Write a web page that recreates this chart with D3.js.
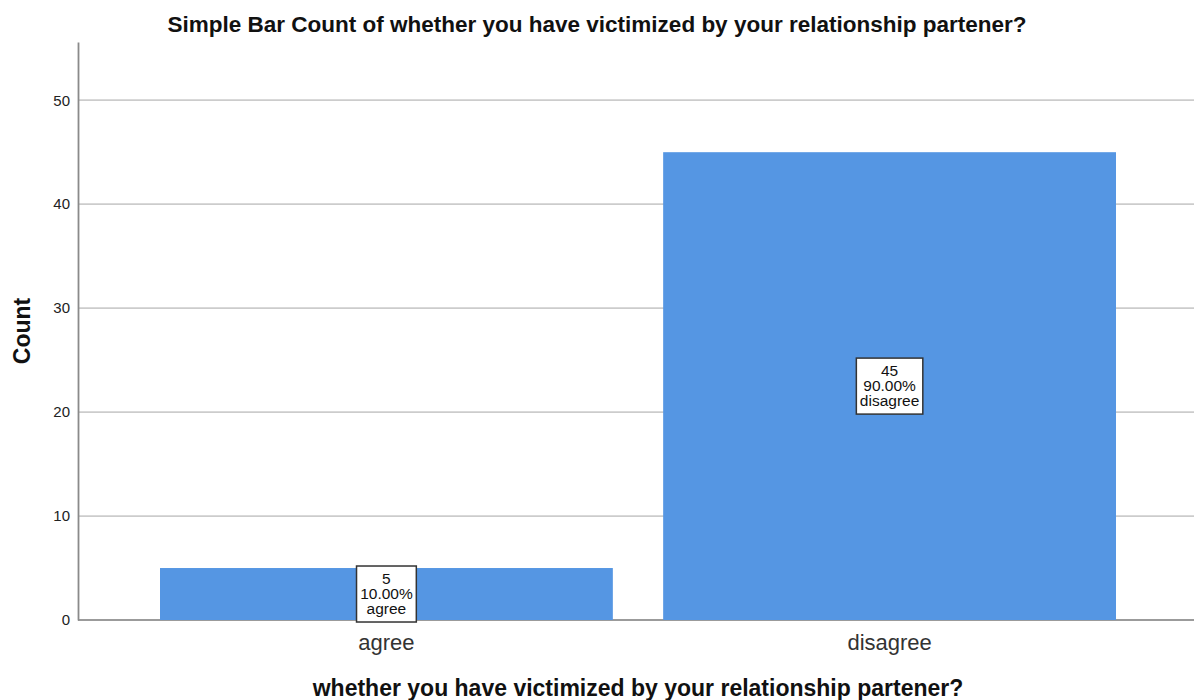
<!DOCTYPE html>
<html>
<head>
<meta charset="utf-8">
<script src="https://cdn.jsdelivr.net/npm/d3@7"></script>
<style>
  body { margin: 0; background: #fff; }
  text { font-family: "Liberation Sans", Arial, sans-serif; }
</style>
</head>
<body>
<script>
// chart data
const categories = ["agree", "disagree"];
const counts = [5, 45];
const percents = ["10.00%", "90.00%"];
const yTicks = [0, 10, 20, 30, 40, 50];

const chartTitle = "Simple Bar Count of whether you have victimized by your relationship partener?";
const xTitle = "whether you have victimized by your relationship partener?";
const yTitle = "Count";

const svgWidth = 1194, svgHeight = 700;
const margin = { top: 42, right: 0, bottom: 80, left: 78 };
const width = svgWidth - margin.left - margin.right;
const height = svgHeight - margin.top - margin.bottom;

const svg = d3.select("body").append("svg")
  .attr("width", svgWidth)
  .attr("height", svgHeight);

const x = d3.scaleBand()
  .domain(categories)
  .range([2, width + 2])
  .paddingInner(0.1)
  .paddingOuter(0.159);

const y = d3.scaleLinear().domain([0, 55.6]).range([height, 0]);

const g = svg.append("g")
  .attr("transform", "translate(" + margin.left + "," + margin.top + ")");

// gridlines
g.append("g")
  .selectAll("line")
  .data(yTicks.filter(d => d > 0))
  .enter().append("line")
  .attr("x1", 0).attr("x2", width)
  .attr("y1", d => y(d)).attr("y2", d => y(d))
  .attr("stroke", "#cccccc")
  .attr("stroke-width", 1.8);

// baseline
g.append("line")
  .attr("x1", 0).attr("x2", width)
  .attr("y1", y(0)).attr("y2", y(0))
  .attr("stroke", "#7a7a7a")
  .attr("stroke-width", 1.5);

// y axis
const yAxis = d3.axisLeft(y).tickValues(yTicks).tickSize(0).tickPadding(8);
const yg = g.append("g").call(yAxis);
yg.select(".domain").attr("stroke", "#8a8a8a").attr("stroke-width", 1.8);
yg.selectAll("text")
  .style("font-family", "'Liberation Sans', Arial, sans-serif")
  .style("font-size", "15px")
  .attr("fill", "#222");

// bars
g.selectAll(".bar")
  .data(categories)
  .enter().append("rect")
  .attr("class", "bar")
  .attr("x", d => x(d))
  .attr("width", x.bandwidth())
  .attr("y", (d, i) => y(counts[i]))
  .attr("height", (d, i) => y(0) - y(counts[i]))
  .attr("fill", "#5596e3");

// x axis labels
const xAxis = d3.axisBottom(x).tickSize(0).tickPadding(14);
const xg = g.append("g").attr("transform", "translate(0," + height + ")").call(xAxis);
xg.select(".domain").remove();
xg.selectAll("text")
  .style("font-family", "'Liberation Sans', Arial, sans-serif")
  .style("font-size", "22px")
  .attr("fill", "#333");

// value labels
const labels = g.selectAll(".lbl")
  .data(categories)
  .enter().append("g")
  .attr("class", "lbl")
  .attr("transform", (d, i) => "translate(" + (x(d) + x.bandwidth() / 2) + "," + y(counts[i] / 2) + ")");

labels.each(function (d, i) {
  const sel = d3.select(this);
  const lines = [String(counts[i]), percents[i], d];
  const rect = sel.append("rect")
    .attr("fill", "#fff")
    .attr("stroke", "#333")
    .attr("stroke-width", 1.5);
  const t = sel.append("text")
    .attr("text-anchor", "middle")
    .style("font-size", "15.5px")
    .attr("fill", "#111");
  lines.forEach((s, k) => {
    t.append("tspan").attr("x", 0).attr("y", -15 + k * 15 + 5).text(s);
  });
  const bb = t.node().getBBox();
  const w = bb.width + 7;
  rect.attr("x", -w / 2).attr("y", -28).attr("width", w).attr("height", 56);
});

// titles
svg.append("text")
  .attr("x", 597).attr("y", 32)
  .attr("text-anchor", "middle")
  .style("font-size", "22.5px")
  .style("font-weight", "bold")
  .attr("fill", "#111")
  .text(chartTitle);

svg.append("text")
  .attr("x", 638).attr("y", 696)
  .attr("text-anchor", "middle")
  .style("font-size", "23px")
  .style("font-weight", "bold")
  .attr("fill", "#111")
  .text(xTitle);

svg.append("text")
  .attr("transform", "translate(30,331) rotate(-90)")
  .attr("text-anchor", "middle")
  .style("font-size", "23px")
  .style("font-weight", "bold")
  .attr("fill", "#111")
  .text(yTitle);
</script>
</body>
</html>
